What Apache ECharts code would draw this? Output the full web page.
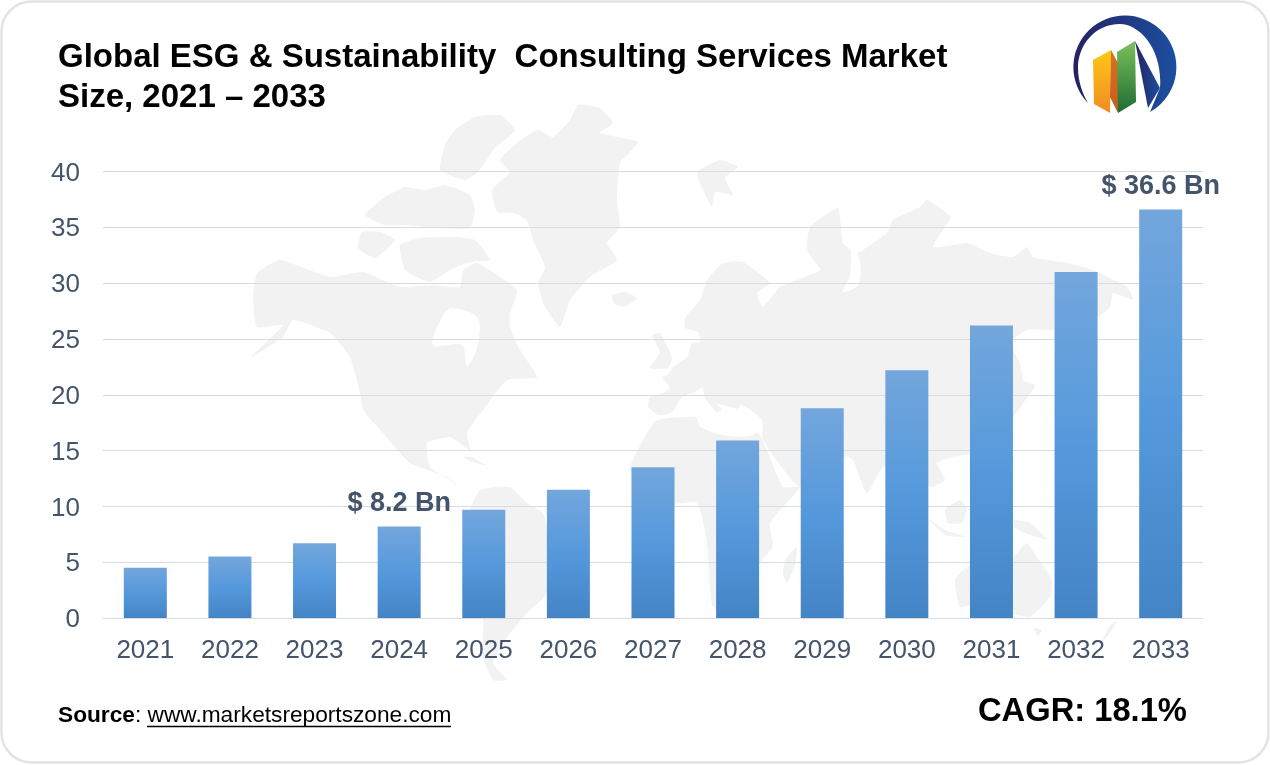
<!DOCTYPE html>
<html>
<head>
<meta charset="utf-8">
<title>Global ESG & Sustainability Consulting Services Market Size</title>
<script src="https://cdn.jsdelivr.net/npm/echarts@6/dist/echarts.min.js"></script>
<style>
html,body{margin:0;padding:0;background:#ffffff;}
#chart{width:1270px;height:765px;}
</style>
</head>
<body>
<div id="chart"></div>
<script>
var years = ['2021','2022','2023','2024','2025','2026','2027','2028','2029','2030','2031','2032','2033'];
var marketSize = [4.5,5.5,6.7,8.2,9.7,11.5,13.5,15.9,18.8,22.2,26.2,31,36.6];
var labelledYears = ['2024','2033'];
var yTicks = {min:0,max:40,interval:5};

//background world map, rough outline in page pixels
var landShapes = [
	[[578,105],[600,108],[613,123],[600,133],[638,142],[620,163],[617,200],[620,227],[607,243],[617,260],[590,277],[570,300],[560,327],[543,303],[538,283],[545,267],[533,240],[527,220],[513,213],[497,212],[492,190],[510,172],[500,160],[517,143],[537,130],[553,137],[570,120]],
	[[257,273],[280,260],[330,277],[363,272],[400,287],[430,285],[460,287],[463,270],[477,263],[517,290],[510,313],[510,327],[520,350],[537,377],[507,380],[483,410],[467,433],[470,450],[450,437],[427,443],[430,467],[450,480],[463,490],[447,477],[410,463],[383,433],[363,410],[360,393],[350,357],[330,333],[293,320],[283,337],[250,358],[283,325],[257,327],[253,297]],
	[[475,117],[500,115],[515,130],[495,148],[478,172],[465,180],[440,170],[445,145],[455,130]],
	[[365,215],[385,197],[405,187],[425,190],[445,185],[470,195],[475,210],[470,228],[435,228],[405,225],[385,225]],
	[[358,248],[362,232],[380,232],[395,240],[375,258]],
	[[400,245],[420,238],[455,237],[475,240],[490,260],[470,262],[450,270],[430,282],[405,270]],
	[[697,172],[720,160],[738,167],[725,178],[733,195],[715,192],[712,207],[703,190]],
	[[612,295],[625,292],[637,298],[625,307],[614,303]],
	[[652,336],[660,333],[672,358],[668,368],[650,368],[660,352]],
	[[685,318],[700,300],[707,280],[723,263],[743,262],[770,283],[757,293],[763,307],[780,287],[820,270],[807,250],[810,227],[838,208],[843,243],[857,253],[873,243],[887,233],[893,220],[920,207],[927,200],[950,217],[933,247],[967,243],[990,253],[1013,257],[1027,247],[1033,257],[1067,263],[1093,270],[1127,287],[1133,300],[1113,293],[1110,307],[1090,323],[1050,330],[1027,330],[1010,343],[1020,363],[1023,383],[1020,407],[985,450],[953,457],[937,463],[945,480],[930,487],[915,465],[883,467],[867,493],[853,460],[847,457],[800,487],[763,440],[762,420],[740,410],[702,400],[680,400],[672,413],[658,415],[648,407],[650,397],[663,393],[670,388],[662,377],[668,375],[673,367],[687,357],[692,343],[700,342],[698,332],[685,328]],
	[[647,433],[657,420],[697,417],[700,427],[720,433],[758,433],[783,487],[800,487],[770,523],[773,547],[760,563],[750,595],[725,615],[712,605],[707,543],[697,503],[660,505],[640,495],[630,467]],
	[[783,575],[785,560],[797,547],[795,565],[787,583]],
	[[480,490],[510,487],[527,503],[543,513],[547,530],[547,593],[527,613],[507,637],[493,663],[507,680],[493,680],[483,657],[483,620],[463,580],[463,553],[470,510]],
	[[463,457],[472,457],[485,465],[472,462]],
	[[955,580],[967,567],[987,560],[1013,557],[1027,543],[1037,557],[1052,580],[1050,597],[1030,617],[1010,613],[987,600],[960,607]],
	[[945,510],[960,500],[967,508],[962,523],[948,523]],
	[[928,518],[945,535],[967,537],[945,530]],
	[[1013,520],[1030,523],[1048,540],[1030,535],[1015,528]],
	[[1015,380],[1035,385],[1022,405],[1013,417],[1020,395]],
	[[1117,620],[1110,633],[1102,642],[1108,628]],
	[[1034,628],[1042,630],[1038,636]]
];
var waterShapes = [
	[[433,345],[443,315],[452,308],[478,318],[477,348],[467,366],[462,345]],
	[[660,418],[675,410],[682,397],[695,392],[702,388],[712,400],[722,410],[735,412],[742,405],[760,418],[762,425],[750,436],[717,434],[700,425],[695,416]],
	[[852,245],[860,262],[858,285],[843,292],[850,275]]
];
var italyShape = [[702,388],[712,398],[722,410],[716,412],[706,400]];

var graphics = [{
	type:'rect', z:-30,
	shape:{x:1.5,y:1.5,width:1267,height:761,r:30},
	style:{fill:'#ffffff',stroke:'#e3e3e3',lineWidth:2.5}
}];
landShapes.forEach(function(pts){
	graphics.push({type:'polygon',z:-20,shape:{points:pts,smooth:0.15},style:{fill:'#f2f2f2'}});
});
waterShapes.forEach(function(pts){
	graphics.push({type:'polygon',z:-19,shape:{points:pts,smooth:0.3},style:{fill:'#ffffff'}});
});
graphics.push({type:'polygon',z:-18,shape:{points:italyShape},style:{fill:'#f2f2f2'}});

function vGrad(c0,c1){
	return new echarts.graphic.LinearGradient(0,0,0,1,[{offset:0,color:c0},{offset:1,color:c1}]);
}
echarts.graphic.registerShape('logoRing',echarts.graphic.extendPath('M1088 103 A51.5 51.5 0 1 1 1150 112 L1160 88 C1163 50 1140 24 1120 24 C1095 24 1078 45 1078 68 C1078 80 1082 93 1088 103 Z'));
//logo
graphics.push(
	{type:'logoRing',z:-5,
		style:{fill:new echarts.graphic.LinearGradient(0,0,1,0,[{offset:0,color:'#262262'},{offset:1,color:'#1c4fa0'}])}},
	{type:'polygon',z:-4,shape:{points:[[1135,41],[1160,88],[1148,108]]},
		style:{fill:new echarts.graphic.LinearGradient(0,0,1,0,[{offset:0,color:'#262262'},{offset:1,color:'#1c4fa0'}])}},
	{type:'polygon',z:-4,shape:{points:[[1093,60],[1111,50],[1110,113],[1094,104]]},style:{fill:vGrad('#fdc816','#f08c22')}},
	{type:'polygon',z:-3,shape:{points:[[1111,50],[1118,63],[1118,113],[1110,97]]},style:{fill:vGrad('#d9731f','#c65a1e')}},
	{type:'polygon',z:-3,shape:{points:[[1117,52],[1135,41],[1136,102],[1118,113]]},style:{fill:vGrad('#7ac25a','#1e6b34')}}
);
//footer
graphics.push(
	{type:'text',z:5,x:58,y:704,style:{
		text:'{b|Source}{n|: www.marketsreportszone.com}',
		rich:{
			b:{fontFamily:'Liberation Sans',fontSize:22.7,fontWeight:'bold',fill:'#000000'},
			n:{fontFamily:'Liberation Sans',fontSize:22.7,fill:'#000000'}
		}
	}},
	{type:'line',z:5,shape:{x1:147,y1:726.5,x2:451,y2:726.5},style:{stroke:'#000000',lineWidth:1.5}},
	{type:'text',z:5,x:978,y:695,style:{text:'CAGR: 18.1%',fontFamily:'Liberation Sans',fontSize:32.7,fontWeight:'bold',fill:'#000000'}}
);

var barData = marketSize.map(function(v,i){
	var show = labelledYears.indexOf(years[i])>=0;
	return {value:v,label:{show:show}};
});

var chart = echarts.init(document.getElementById('chart'),null,{renderer:'canvas'});
var option = {
	backgroundColor:'#ffffff',
	animation:false,
	title:{
		left:53,top:33,
		text:'Global ESG & Sustainability  Consulting Services Market\nSize, 2021 – 2033',
		textStyle:{fontFamily:'Liberation Sans',fontSize:33,fontWeight:'bold',color:'#000000',lineHeight:40}
	},
	grid:{left:103,right:67,top:171.5,bottom:147},
	xAxis:{
		type:'category',
		data:years,
		axisTick:{show:false},
		axisLine:{lineStyle:{color:'#d6dce5',width:1}},
		axisLabel:{margin:20,fontFamily:'Liberation Sans',fontSize:26,color:'#44546a'}
	},
	yAxis:{
		type:'value',
		min:yTicks.min,max:yTicks.max,interval:yTicks.interval,
		axisLine:{show:false},
		axisTick:{show:false},
		splitLine:{lineStyle:{color:'#d6dce5',width:1}},
		axisLabel:{
			margin:23,
			formatter:'{a|{value}}',
			rich:{a:{padding:[4,0,0,0],fontFamily:'Liberation Sans',fontSize:26,color:'#44546a'}}
		}
	},
	graphic:graphics,
	series:[{
		type:'bar',
		data:barData,
		barWidth:43,
		itemStyle:{
			color:new echarts.graphic.LinearGradient(0,0,0,1,[
				{offset:0,color:'#73a6dc'},
				{offset:0.5,color:'#5599dc'},
				{offset:1,color:'#4384c5'}
			])
		},
		label:{
			show:false,
			position:'top',
			distance:9,
			formatter:function(p){return '$ '+p.value+' Bn';},
			fontFamily:'Liberation Sans',
			fontSize:27,
			fontWeight:'bold',
			color:'#44546a'
		}
	}]
};
chart.setOption(option);
</script>
</body>
</html>
